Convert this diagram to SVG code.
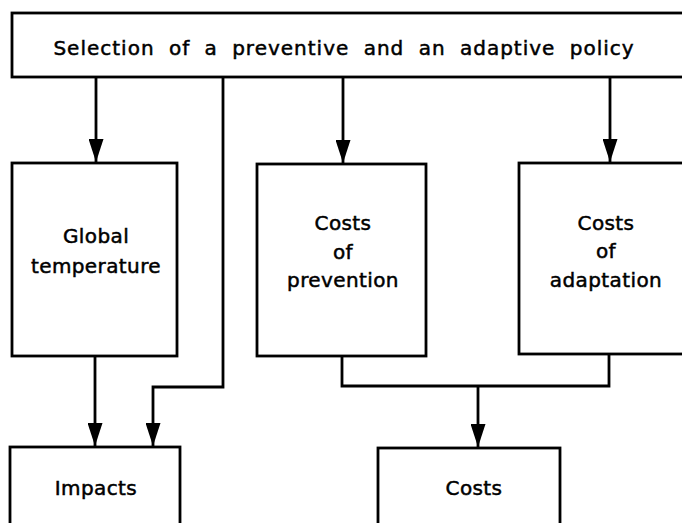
<svg xmlns="http://www.w3.org/2000/svg" width="682" height="523" viewBox="0 0 682 523">
<style>
.box{fill:#fff;stroke:#000;stroke-width:2.8}
.lbl{font-family:"DejaVu Sans",sans-serif;font-size:20px;letter-spacing:0.4px;text-anchor:middle;fill:#000;stroke:#000;stroke-width:0.5}
.title{font-family:"DejaVu Sans",sans-serif;font-size:20px;letter-spacing:1px;word-spacing:7px;text-anchor:middle;fill:#000;stroke:#000;stroke-width:0.5}
.con{fill:none;stroke:#000;stroke-width:2.8}
</style>
<defs>
<marker id="ah" markerUnits="userSpaceOnUse" markerWidth="24" markerHeight="15" refX="23" refY="7.5" orient="auto" viewBox="0 0 24 15">
<path d="M0,0 L23,7.5 L0,15 z" fill="#000"/>
</marker>
</defs>
<rect width="682" height="523" fill="#fff"/>
<g id="connectors">
<path class="con" d="M96,77 V162" marker-end="url(#ah)"/>
<path class="con" d="M223,77 V387 H153 V446" marker-end="url(#ah)"/>
<path class="con" d="M343,77 V163" marker-end="url(#ah)"/>
<path class="con" d="M610,77 V162" marker-end="url(#ah)"/>
<path class="con" d="M95,356 V446" marker-end="url(#ah)"/>
<path class="con" d="M342,356 V386 H609 V354"/>
<path class="con" d="M478,386 V447" marker-end="url(#ah)"/>
</g>
<g id="policy">
<rect class="box" x="12" y="13" width="690" height="64"/>
<text class="title" x="344" y="55">Selection of a preventive and an adaptive policy</text>
</g>
<g id="global-temperature">
<rect class="box" x="12" y="163" width="165" height="193"/>
<text class="lbl" x="96" y="243">Global</text>
<text class="lbl" x="96" y="273">temperature</text>
</g>
<g id="costs-prevention">
<rect class="box" x="257" y="164" width="169" height="192"/>
<text class="lbl" x="343" y="230">Costs</text>
<text class="lbl" x="343" y="259">of</text>
<text class="lbl" x="343" y="287">prevention</text>
</g>
<g id="costs-adaptation">
<rect class="box" x="519" y="163" width="190" height="191"/>
<text class="lbl" x="606" y="230">Costs</text>
<text class="lbl" x="606" y="258">of</text>
<text class="lbl" x="606" y="287">adaptation</text>
</g>
<g id="impacts">
<rect class="box" x="10" y="447" width="170" height="90"/>
<text class="lbl" x="96" y="495">Impacts</text>
</g>
<g id="costs">
<rect class="box" x="378" y="448" width="182" height="90"/>
<text class="lbl" x="474" y="495">Costs</text>
</g>
</svg>
